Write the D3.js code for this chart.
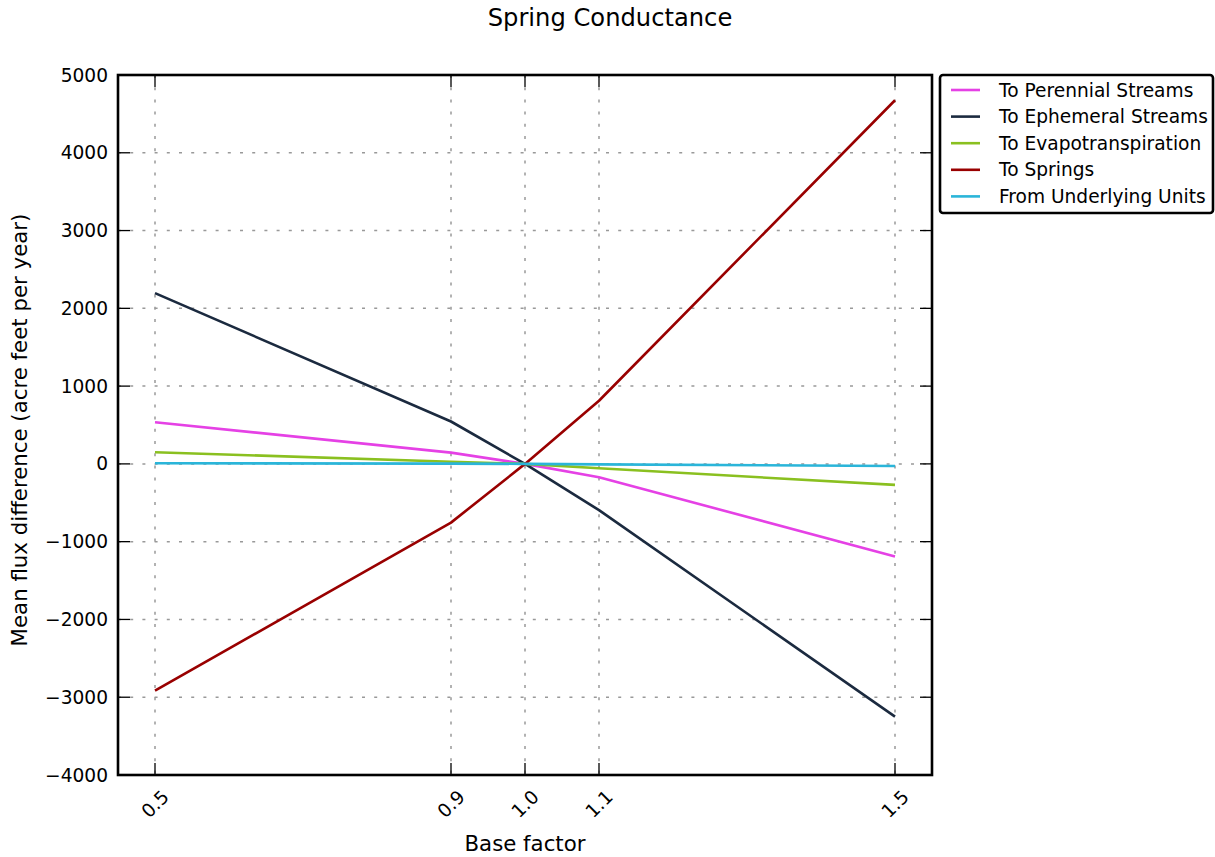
<!DOCTYPE html>
<html>
<head>
<meta charset="utf-8">
<script src="https://cdn.jsdelivr.net/npm/d3@7"></script>
<style>
  html, body { margin: 0; padding: 0; background: #ffffff; }
  svg { display: block; font-family: "DejaVu Sans", sans-serif; }
</style>
</head>
<body>
<svg id="chart" width="1215" height="857"></svg>
<script>
// Scale factors applied to spring conductance
const factors = [0.5, 0.9, 1.0, 1.1, 1.5];
const xTickLabels = ["0.5", "0.9", "1.0", "1.1", "1.5"];
const yTicks = [-4000, -3000, -2000, -1000, 0, 1000, 2000, 3000, 4000, 5000];

// Mean flux difference (acre feet per year) for each budget term
const seriesNames = ["To Perennial Streams", "To Ephemeral Streams", "To Evapotranspiration", "To Springs", "From Underlying Units"];
const perennial = [535, 145, 0, -172, -1190];
const ephemeral = [2195, 545, 0, -595, -3250];
const evapotranspiration = [150, 28, 0, -57, -270];
const springs = [-2915, -755, 0, 812, 4675];
const underlying = [8, 4, 0, -6, -28];
const seriesColors = ["#e541e5", "#1b2a3f", "#8ac020", "#990000", "#2ab5d9"];

const seriesValues = [perennial, ephemeral, evapotranspiration, springs, underlying];

const svg = d3.select("#chart");
const plot = { left: 118, top: 75, right: 932, bottom: 775 };

const x = d3.scaleLinear().domain([0.45, 1.55]).range([plot.left, plot.right]);
const y = d3.scaleLinear().domain([-4000, 5000]).range([plot.bottom, plot.top]);

const tickLen = 12;
const tickFont = 18.6;
const g = svg.append("g");

// Dotted grid
g.append("g").selectAll("line").data(factors).join("line")
  .attr("x1", d => x(d)).attr("x2", d => x(d))
  .attr("y1", plot.top).attr("y2", plot.bottom)
  .attr("stroke", "#999").attr("stroke-width", 1.5)
  .attr("stroke-dasharray", "3,9.2");
g.append("g").selectAll("line").data(yTicks).join("line")
  .attr("x1", plot.left).attr("x2", plot.right)
  .attr("y1", d => y(d)).attr("y2", d => y(d))
  .attr("stroke", "#999").attr("stroke-width", 1.5)
  .attr("stroke-dasharray", "3,9.2");

// Series lines
const line = d3.line().x((d, i) => x(factors[i])).y(d => y(d));
seriesValues.forEach((vals, k) => {
  g.append("path").datum(vals)
    .attr("d", line)
    .attr("fill", "none")
    .attr("stroke", seriesColors[k])
    .attr("stroke-width", 2.6)
    .attr("stroke-linejoin", "round");
});

// Inward ticks on all four sides
const tickColor = "#000";
g.append("g").selectAll("line").data(factors).join("line")
  .attr("x1", d => x(d)).attr("x2", d => x(d))
  .attr("y1", plot.bottom).attr("y2", plot.bottom - tickLen)
  .attr("stroke", tickColor).attr("stroke-width", 1.3);
g.append("g").selectAll("line").data(factors).join("line")
  .attr("x1", d => x(d)).attr("x2", d => x(d))
  .attr("y1", plot.top).attr("y2", plot.top + tickLen)
  .attr("stroke", tickColor).attr("stroke-width", 1.3);
g.append("g").selectAll("line").data(yTicks).join("line")
  .attr("x1", plot.left).attr("x2", plot.left + tickLen)
  .attr("y1", d => y(d)).attr("y2", d => y(d))
  .attr("stroke", tickColor).attr("stroke-width", 1.3);
g.append("g").selectAll("line").data(yTicks).join("line")
  .attr("x1", plot.right).attr("x2", plot.right - tickLen)
  .attr("y1", d => y(d)).attr("y2", d => y(d))
  .attr("stroke", tickColor).attr("stroke-width", 1.3);

// Frame
g.append("rect")
  .attr("x", plot.left).attr("y", plot.top)
  .attr("width", plot.right - plot.left).attr("height", plot.bottom - plot.top)
  .attr("fill", "none").attr("stroke", "#000").attr("stroke-width", 2.6);

// Y tick labels
g.append("g").selectAll("text").data(yTicks).join("text")
  .attr("x", plot.left - 10).attr("y", d => y(d))
  .attr("text-anchor", "end").attr("dominant-baseline", "central")
  .attr("font-size", tickFont).attr("fill", "#000")
  .text(d => d < 0 ? "\u2212" + Math.abs(d) : String(d));

// X tick labels, rotated
g.append("g").selectAll("text").data(factors).join("text")
  .attr("transform", (d) => `translate(${x(d)},${804}) rotate(-45)`)
  .attr("text-anchor", "middle").attr("dominant-baseline", "central")
  .attr("font-size", tickFont).attr("fill", "#000")
  .text((d, i) => xTickLabels[i]);

// Axis titles
svg.append("text")
  .attr("x", (plot.left + plot.right) / 2).attr("y", 843)
  .attr("text-anchor", "middle").attr("dominant-baseline", "central")
  .attr("font-size", 21.3).attr("fill", "#000")
  .text("Base factor");
svg.append("text")
  .attr("transform", `translate(19,${(plot.top + plot.bottom) / 2 + 5}) rotate(-90)`)
  .attr("text-anchor", "middle").attr("dominant-baseline", "central")
  .attr("font-size", 21.3).attr("fill", "#000")
  .text("Mean flux difference (acre feet per year)");

// Title
svg.append("text")
  .attr("x", 610).attr("y", 18)
  .attr("text-anchor", "middle").attr("dominant-baseline", "central")
  .attr("font-size", 24.2).attr("fill", "#000")
  .text("Spring Conductance");

// Legend
const legend = svg.append("g");
legend.append("rect")
  .attr("x", 940).attr("y", 75).attr("width", 273).attr("height", 138)
  .attr("rx", 3).attr("fill", "#fff").attr("stroke", "#000").attr("stroke-width", 2.6);
seriesNames.forEach((name, k) => {
  const ly = 90 + k * 26.6;
  legend.append("line")
    .attr("x1", 951).attr("x2", 980).attr("y1", ly).attr("y2", ly)
    .attr("stroke", seriesColors[k]).attr("stroke-width", 2.6);
  legend.append("text")
    .attr("x", 999).attr("y", ly)
    .attr("dominant-baseline", "central")
    .attr("font-size", tickFont).attr("fill", "#000")
    .text(name);
});
</script>
</body>
</html>
